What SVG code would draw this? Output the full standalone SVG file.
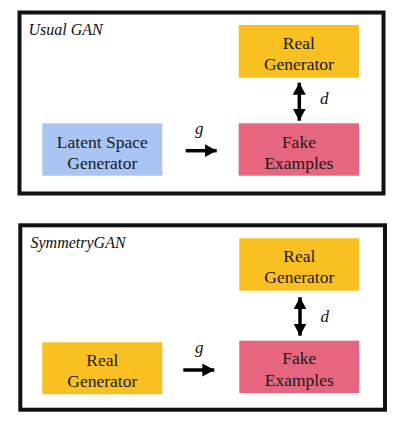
<svg xmlns="http://www.w3.org/2000/svg" width="400" height="424" viewBox="0 0 400 424">
<defs>
<style>
.frame{fill:#fff;stroke:#111;stroke-width:4}
.yellow{fill:#F8C121}
.pink{fill:#E6657F}
.blue{fill:#AAC5F3}
.lbl{font-size:17.5px;fill:#1a1a1a;text-anchor:middle}
.title{font-size:16px;font-style:italic;fill:#111}
.math{font-size:17px;font-style:italic;fill:#111}
.conn{stroke:#000;stroke-width:3.5;fill:none}
</style>
<marker id="ah" viewBox="0 0 12 13" refX="12" refY="6.5" markerWidth="12" markerHeight="13" markerUnits="userSpaceOnUse" orient="auto-start-reverse">
<path d="M0,0 L12,6.5 L0,13 Z" fill="#000"/>
</marker>
</defs>
<rect width="400" height="424" fill="#fff"/>
<g font-family="'Liberation Serif', 'Times New Roman', Times, serif">
<g id="usual-frame">
<rect class="frame" x="19.5" y="12.5" width="364" height="181"/>
<text class="title" x="28.5" y="35">Usual GAN</text>
</g>
<g id="symm-frame">
<rect class="frame" x="20.3" y="225.3" width="364.7" height="184.4"/>
<text class="title" x="30.5" y="247.5">SymmetryGAN</text>
</g>
<g id="top-real">
<rect class="yellow" x="238.7" y="25" width="120.3" height="52.7"/>
<text class="lbl" x="298.9" y="49.3">Real</text>
<text class="lbl" x="298.9" y="70">Generator</text>
</g>
<g id="top-latent">
<rect class="blue" x="42.3" y="123.3" width="120" height="52.4"/>
<text class="lbl" x="102.3" y="148">Latent Space</text>
<text class="lbl" x="102.3" y="168.8">Generator</text>
</g>
<g id="top-fake">
<rect class="pink" x="238.7" y="123.3" width="120.3" height="52.4"/>
<text class="lbl" x="298.9" y="147.5">Fake</text>
<text class="lbl" x="298.9" y="168.5">Examples</text>
</g>
<g id="bot-real-top">
<rect class="yellow" x="239.3" y="238.3" width="120" height="52.4"/>
<text class="lbl" x="299.3" y="262.3">Real</text>
<text class="lbl" x="299.3" y="283">Generator</text>
</g>
<g id="bot-real-left">
<rect class="yellow" x="42.3" y="342.3" width="120" height="52"/>
<text class="lbl" x="102.3" y="366">Real</text>
<text class="lbl" x="102.3" y="386.7">Generator</text>
</g>
<g id="bot-fake">
<rect class="pink" x="239.3" y="340.7" width="120" height="52.3"/>
<text class="lbl" x="299.3" y="364.3">Fake</text>
<text class="lbl" x="299.3" y="385.7">Examples</text>
</g>
<g id="connectors">
<line class="conn" x1="185.7" y1="150.7" x2="216.7" y2="150.7" marker-end="url(#ah)"/>
<text class="math" x="195" y="133.5">g</text>
<line class="conn" x1="299.3" y1="82.7" x2="299.3" y2="120.7" marker-start="url(#ah)" marker-end="url(#ah)"/>
<text class="math" x="320" y="104">d</text>
<line class="conn" x1="183.3" y1="370" x2="214.3" y2="370" marker-end="url(#ah)"/>
<text class="math" x="195" y="352.7">g</text>
<line class="conn" x1="300" y1="297.3" x2="300" y2="335.7" marker-start="url(#ah)" marker-end="url(#ah)"/>
<text class="math" x="320.5" y="321.7">d</text>
</g>
</g>
</svg>
